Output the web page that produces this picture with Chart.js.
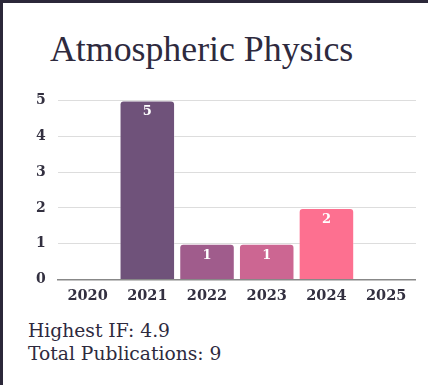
<!DOCTYPE html>
<html>
<head>
<meta charset="utf-8">
<script src="https://cdn.jsdelivr.net/npm/chart.js@4.4.0/dist/chart.umd.min.js"></script>
<style>
  html, body { margin: 0; padding: 0; width: 428px; height: 385px; overflow: hidden; background: #2b2839; }
  .card { position: absolute; left: 3px; top: 3px; width: 425px; height: 382px; background: #ffffff; }
  .title { position: absolute; left: 47px; top: 25px; font-family: "Liberation Serif", serif; font-size: 35.8px; color: #2e2a3e; white-space: nowrap; }
  .chartbox { position: absolute; left: 17px; top: 77px; width: 396px; height: 233px; }
  .footer { position: absolute; left: 25px; top: 316px; font-family: "DejaVu Serif", serif; font-size: 18.7px; line-height: 23px; color: #2e2a3e; }
</style>
</head>
<body>
<div class="card">
  <div class="title">Atmospheric Physics</div>
  <div class="chartbox"><canvas id="c"></canvas></div>
  <div class="footer">Highest IF: 4.9<br>Total Publications: 9</div>
</div>
<script>
const years = ["2020", "2021", "2022", "2023", "2024", "2025"];
const publications = [0, 5, 1, 1, 2, 0];
const barColors = ["#6f527a", "#6f527a", "#a05c8c", "#cc6692", "#fd7090", "#fd7090"];
const yTicks = [0, 1, 2, 3, 4, 5];

const valueLabels = {
  id: "valueLabels",
  afterDatasetsDraw(chart) {
    const ctx = chart.ctx;
    const meta = chart.getDatasetMeta(0);
    ctx.save();
    ctx.fillStyle = "#ffffff";
    ctx.font = "bold 13px 'DejaVu Serif', serif";
    ctx.textAlign = "center";
    ctx.textBaseline = "top";
    meta.data.forEach((bar, i) => {
      const v = publications[i];
      if (!v) return;
      ctx.fillText(String(v), bar.x, bar.y + 5);
    });
    ctx.restore();
  }
};

new Chart(document.getElementById("c"), {
  type: "bar",
  data: {
    labels: years,
    datasets: [{
      data: publications,
      backgroundColor: barColors,
      borderColor: "rgba(255,255,255,0.35)",
      borderWidth: 1,
      borderRadius: { topLeft: 4, topRight: 4 },
      borderSkipped: "bottom",
      barPercentage: 0.93,
      categoryPercentage: 1.0
    }]
  },
  options: {
    responsive: true,
    maintainAspectRatio: false,
    animation: false,
    layout: { padding: { left: 4, right: 0, top: 6, bottom: 0 } },
    plugins: { legend: { display: false }, tooltip: { enabled: false } },
    scales: {
      x: {
        grid: { display: false, drawTicks: false },
        border: { display: true, color: "#888888", width: 1.5 },
        ticks: { color: "#333040", padding: 8, font: { family: "DejaVu Serif", size: 14.5, weight: "600" } }
      },
      y: {
        min: 0, max: 5,
        afterBuildTicks(axis) { axis.ticks = yTicks.map(v => ({ value: v })); },
        grid: { color: "#dddddd", drawTicks: false },
        border: { display: false },
        ticks: { color: "#333040", padding: 12, stepSize: 1, font: { family: "DejaVu Serif", size: 14, weight: "600" } }
      }
    }
  },
  plugins: [valueLabels]
});
</script>
</body>
</html>
